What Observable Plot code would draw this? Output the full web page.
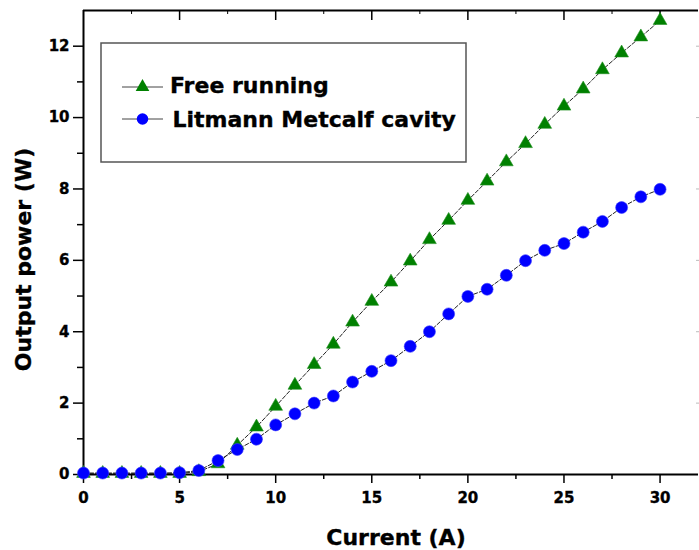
<!DOCTYPE html>
<html><head><meta charset="utf-8">
<script src="https://cdn.jsdelivr.net/npm/d3@7"></script>
<script src="https://cdn.jsdelivr.net/npm/@observablehq/plot@0.6"></script>
<style>
html,body{margin:0;padding:0;background:#fff;}
svg text{stroke:#000;stroke-width:0.35px;}
</style></head><body><div id="chart"></div>
<script>
// ---- data ----
const current = [0,1,2,3,4,5,6,7,8,9,10,11,12,13,14,15,16,17,18,19,20,21,22,23,24,25,26,27,28,29,30];
const freeRunning = [0.03,0.03,0.03,0.03,0.03,0.03,0.08,0.30,0.82,1.33,1.91,2.50,3.08,3.65,4.27,4.85,5.39,5.98,6.58,7.12,7.68,8.22,8.76,9.27,9.81,10.32,10.80,11.34,11.81,12.26,12.72];
const litmann = [0.04,0.04,0.04,0.04,0.04,0.05,0.11,0.39,0.70,0.99,1.39,1.70,2.00,2.20,2.59,2.89,3.19,3.59,4.00,4.50,4.99,5.19,5.58,5.99,6.28,6.47,6.79,7.09,7.48,7.78,7.99];
const seriesNames = ["Free running", "Litmann Metcalf cavity"];
const xMajorTicks = [0,5,10,15,20,25,30];
const xMinorTicks = [2.5,7.5,12.5,17.5,22.5,27.5];
const yMajorTicks = [0,2,4,6,8,10,12];
const yMinorTicks = [1,3,5,7,9,11];
const xTitle = "Current (A)";
const yTitle = "Output power (W)";

const freeData = current.map((c, i) => ({c, p: freeRunning[i], s: seriesNames[0]}));
const litData = current.map((c, i) => ({c, p: litmann[i], s: seriesNames[1]}));

const font = "'DejaVu Sans', 'Liberation Sans', Arial, sans-serif";
const green = "#008000", blue = "#0000ff";

const chart = Plot.plot({
  width: 699, height: 550,
  marginLeft: 83, marginRight: 1, marginTop: 10, marginBottom: 76,
  style: {fontFamily: font, fontWeight: "bold", fontSize: "15px", color: "#000", background: "#fff", overflow: "visible"},
  x: {domain: [0, 32]},
  y: {domain: [0, 13]},
  marks: [
    // bottom axis
    Plot.axisX(xMajorTicks, {tickSize: 9, tickPadding: 9, strokeWidth: 1.5, label: null, fontSize: 15, fontWeight: "bold"}),
    Plot.axisX(xMinorTicks, {tickSize: 5, tickFormat: () => "", label: null, strokeWidth: 1.5}),
    // top axis, inward ticks
    Plot.axisX(xMajorTicks.slice(1), {anchor: "top", tickSize: -9, tickFormat: () => "", label: null, strokeWidth: 1.5}),
    Plot.axisX(xMinorTicks, {anchor: "top", tickSize: -3, tickFormat: () => "", label: null, strokeWidth: 1}),
    // left axis
    Plot.axisY(yMajorTicks, {tickSize: 10, tickPadding: 4, strokeWidth: 1.5, label: null, fontSize: 15, fontWeight: "bold"}),
    Plot.axisY(yMinorTicks, {tickSize: 6, tickFormat: () => "", label: null, strokeWidth: 1.5}),
    // faint right-edge ticks
    Plot.axisY(yMajorTicks.slice(1), {anchor: "right", tickSize: -3, tickFormat: () => "", label: null, stroke: "#bbb", strokeWidth: 1}),
    // frame lines
    Plot.ruleX([0], {strokeWidth: 2}),
    Plot.ruleY([0], {strokeWidth: 2}),
    Plot.ruleY([13], {strokeWidth: 2}),
    // series
    Plot.line(freeData, {x: "c", y: "p", stroke: "#222", strokeWidth: 1, strokeDasharray: "4,2"}),
    Plot.dot(freeData, {x: "c", y: "p", symbol: "triangle", r: 5.1, fill: green, stroke: "#1f8f1f", strokeWidth: 0.6}),
    Plot.line(litData, {x: "c", y: "p", stroke: "#222", strokeWidth: 1, strokeDasharray: "4,2"}),
    Plot.dot(litData, {x: "c", y: "p", symbol: "circle", r: 6, fill: blue, stroke: "#3a3aff", strokeWidth: 0.6}),
    // titles
    Plot.text([xTitle], {text: d => d, frameAnchor: "bottom", lineAnchor: "middle", textAnchor: "middle", dx: 5, dy: 63, fontSize: 22, fontWeight: "bold"}),
    Plot.text([yTitle], {text: d => d, frameAnchor: "left", lineAnchor: "middle", textAnchor: "middle", rotate: -90, dx: -59.5, dy: 17, fontSize: 22, fontWeight: "bold"})
  ]
});

document.getElementById("chart").appendChild(chart);

// ---- legend (not data-driven positions) ----
const svg = d3.select(chart);
const lg = svg.append("g").attr("font-family", font).attr("font-weight", "bold")
  .attr("font-size", 22).attr("text-anchor", "start");
lg.append("rect").attr("x", 101).attr("y", 43).attr("width", 365).attr("height", 119)
  .attr("fill", "none").attr("stroke", "#555").attr("stroke-width", 1.5);
const rows = [
  {name: seriesNames[0], y: 87, base: 93, tx: 170, sym: d3.symbolTriangle, size: 81, color: green},
  {name: seriesNames[1], y: 119, base: 126.5, tx: 172.5, sym: d3.symbolCircle, size: Math.PI * 33, color: blue}
];
rows.forEach(r => {
  lg.append("line").attr("x1", 122).attr("x2", 163).attr("y1", r.y).attr("y2", r.y)
    .attr("stroke", "#444").attr("stroke-width", 1);
  lg.append("path").attr("d", d3.symbol(r.sym, r.size)()).attr("transform", `translate(142.5,${r.y})`)
    .attr("fill", r.color);
  lg.append("text").attr("x", r.tx).attr("y", r.base).attr("text-anchor", "start").attr("fill", "#000").text(r.name);
});
</script>
</body></html>
